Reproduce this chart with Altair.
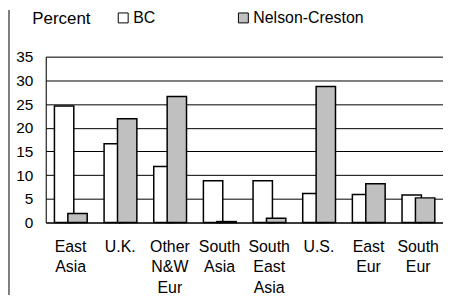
import altair as alt
import pandas as pd

categories = ["East Asia", "U.K.", "Other N&W Eur", "South Asia",
              "South East Asia", "U.S.", "East Eur", "South Eur"]
bc = [24.6, 16.6, 11.8, 8.8, 8.8, 6.1, 5.9, 5.8]
nelson = [1.9, 21.9, 26.6, 0.2, 0.9, 28.7, 8.2, 5.2]
series = ["BC", "Nelson-Creston"]
y_ticks = [0, 5, 10, 15, 20, 25, 30, 35]

rows = []
for c, v in zip(categories, bc):
    rows.append({"region": c, "series": series[0], "pct": v})
for c, v in zip(categories, nelson):
    rows.append({"region": c, "series": series[1], "pct": v})
df = pd.DataFrame(rows)

FONT = "Liberation Sans"

x_enc = alt.X("region:N", sort=categories, title=None,
              scale=alt.Scale(paddingInner=0, paddingOuter=0),
              axis=alt.Axis(labelAngle=0, ticks=False, domain=True, domainColor="black",
                            labelExpr="split(datum.label, ' ')", labelLineHeight=20.5,
                            labelFontSize=16, labelFont=FONT, labelColor="black",
                            labelPadding=16, labelBaseline="top", grid=False))
y_enc = alt.Y("pct:Q", scale=alt.Scale(domain=[0, 35], nice=False),
              axis=alt.Axis(values=y_ticks, ticks=False, domain=True, domainColor="black",
                            grid=True, gridColor="black", gridWidth=1,
                            labelFontSize=15.5, labelFont=FONT, labelColor="black",
                            labelPadding=13,
                            title="Percent", titleAngle=0, titleAlign="left",
                            titleBaseline="alphabetic", titleX=-14, titleY=-33,
                            titleFont=FONT, titleFontSize=17, titleFontWeight="normal",
                            titleColor="black"))
fill_enc = alt.Fill("series:N", scale=alt.Scale(domain=series, range=["white", "#c0c0c0"]),
                    legend=alt.Legend(title=None, orient="none", legendX=70, legendY=-47,
                                      direction="horizontal", symbolType="square",
                                      symbolSize=100, symbolStrokeColor="black",
                                      symbolStrokeWidth=1, labelFont=FONT, labelFontSize=16,
                                      labelColor="black", labelOffset=2,
                                      columnPadding=80, gridAlign="none"))

base = alt.Chart(df)
bc_bars = base.transform_filter(alt.datum.series == "BC").mark_bar(
    width=19.5, xOffset=-6.5, stroke="black", strokeWidth=1.5
).encode(x=x_enc, y=y_enc, fill=fill_enc)
nc_bars = base.transform_filter(alt.datum.series == "Nelson-Creston").mark_bar(
    width=19.5, xOffset=7, stroke="black", strokeWidth=1.5
).encode(x=x_enc, y=y_enc, fill=fill_enc)

border = alt.Chart(pd.DataFrame({"k": [0]})).mark_rule(color="black", strokeWidth=1).encode(
    x=alt.value(-37), y=alt.value(-47), y2=alt.value(240))

chart = alt.layer(bc_bars, nc_bars, border).properties(
    width=400, height=167, padding=0
).configure_view(stroke=None).configure(background="white")

chart.save("out.html", embed_options={"renderer": "svg", "actions": False})
